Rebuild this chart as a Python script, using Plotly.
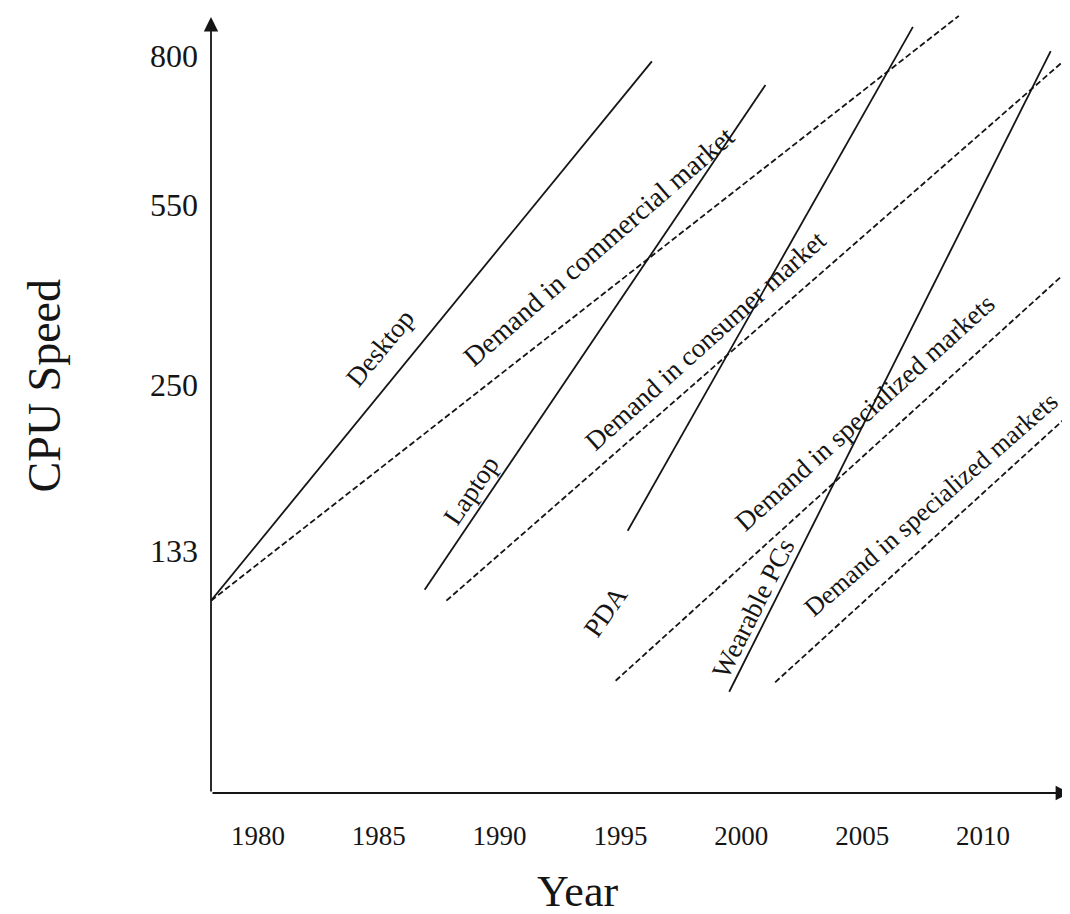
import plotly.graph_objects as go

# ---------------- data (schematic chart) ----------------
# Y axis is a schematic "relative CPU speed level" (0-100); tick labels are MHz
speed_tick_labels = ["133", "250", "550", "800"]
speed_tick_levels = [30.8, 52.0, 74.9, 93.9]
year_ticks = [1980, 1985, 1990, 1995, 2000, 2005, 2010]

# Technology (supply) trajectories - solid lines
supply_names = ["Desktop", "Laptop", "PDA", "Wearable PCs"]
supply_year_start = [1978.06, 1986.9, 1995.3, 1999.5]
supply_year_end = [1996.3, 2001.0, 2007.1, 2012.8]
supply_level_start = [24.5, 25.9, 33.4, 12.9]
supply_level_end = [93.2, 90.2, 97.6, 94.5]

# Demand trajectories - dashed lines
demand_names = ["Demand in commercial market", "Demand in consumer market",
                "Demand in specialized markets", "Demand in specialized markets"]
demand_year_start = [1978.06, 1987.8, 1994.8, 2001.4]
demand_year_end = [2009.0, 2013.8, 2013.85, 2013.85]
demand_level_start = [24.5, 24.5, 14.3, 14.1]
demand_level_end = [99.0, 94.5, 67.5, 49.0]

# label placement (layout only)
supply_label_year = [1985.05, 1988.8, 1994.4, 2000.5]
supply_label_level = [56.7, 38.5, 23.2, 23.6]
supply_label_angle = [-50.6, -56, -55, -63.4]
supply_label_size = [27, 27, 27, 27]
demand_label_year = [1994.1, 1998.5, 2005.1, 2007.85]
demand_label_level = [69.6, 57.6, 48.4, 36.8]
demand_label_angle = [-41, -42, -42, -41]
demand_label_size = [28, 27, 27, 26]

X_MIN, X_MAX = 1978.06, 2013.93
Y_MIN, Y_MAX = 0, 100
FONT = "Liberation Serif, Times New Roman, serif"
INK = "#151515"

fig = go.Figure()

for i, name in enumerate(supply_names):
    fig.add_trace(go.Scatter(
        x=[supply_year_start[i], supply_year_end[i]],
        y=[supply_level_start[i], supply_level_end[i]],
        mode="lines", name=name,
        line=dict(color=INK, width=1.8),
        showlegend=False, hoverinfo="skip"))

for i, name in enumerate(demand_names):
    fig.add_trace(go.Scatter(
        x=[demand_year_start[i], demand_year_end[i]],
        y=[demand_level_start[i], demand_level_end[i]],
        mode="lines", name=name,
        line=dict(color=INK, width=1.8, dash="6px,3px"),
        showlegend=False, hoverinfo="skip"))

annotations = []
for i, name in enumerate(supply_names):
    annotations.append(dict(
        x=supply_label_year[i], y=supply_label_level[i], xref="x", yref="y",
        text=name, showarrow=False, textangle=supply_label_angle[i],
        font=dict(family=FONT, size=supply_label_size[i], color=INK),
        xanchor="center", yanchor="middle"))
for i, name in enumerate(demand_names):
    annotations.append(dict(
        x=demand_label_year[i], y=demand_label_level[i], xref="x", yref="y",
        text=name, showarrow=False, textangle=demand_label_angle[i],
        font=dict(family=FONT, size=demand_label_size[i], color=INK),
        xanchor="center", yanchor="middle"))

# axes drawn as arrows
annotations.append(dict(
    x=X_MIN, y=98.85, ax=X_MIN, ay=Y_MIN, xref="x", yref="y", axref="x", ayref="y",
    text="", showarrow=True, arrowhead=2, arrowwidth=1.8, arrowsize=1.6,
    arrowcolor=INK, standoff=0, startstandoff=0))
annotations.append(dict(
    x=2013.6, y=Y_MIN, ax=X_MIN, ay=Y_MIN, xref="x", yref="y", axref="x", ayref="y",
    text="", showarrow=True, arrowhead=2, arrowwidth=1.8, arrowsize=1.6,
    arrowcolor=INK, standoff=0, startstandoff=0))

# axis titles
annotations.append(dict(
    x=0.423, y=-0.126, xref="paper", yref="paper", text="Year", showarrow=False,
    font=dict(family=FONT, size=44, color=INK), xanchor="center", yanchor="middle"))
annotations.append(dict(
    x=-0.1926, y=0.518, xref="paper", yref="paper", text="CPU Speed", showarrow=False,
    textangle=-90, font=dict(family=FONT, size=46, color=INK),
    xanchor="center", yanchor="middle"))

fig.update_layout(
    width=1070, height=914,
    margin=dict(l=203, r=0, t=0, b=129),
    paper_bgcolor="white", plot_bgcolor="white",
    showlegend=False,
    annotations=annotations,
    xaxis=dict(range=[X_MIN, X_MAX], showgrid=False, zeroline=False, showline=False,
               tickmode="array", tickvals=year_ticks,
               ticktext=[str(y) for y in year_ticks], ticks="",
               ticklabelstandoff=24,
               tickfont=dict(family=FONT, size=27, color=INK)),
    yaxis=dict(range=[Y_MIN, Y_MAX], showgrid=False, zeroline=False, showline=False,
               tickmode="array", tickvals=speed_tick_levels, ticktext=speed_tick_labels,
               ticks="", ticklabelstandoff=12,
               tickfont=dict(family=FONT, size=32, color=INK)),
)

fig.write_html("out.html")
